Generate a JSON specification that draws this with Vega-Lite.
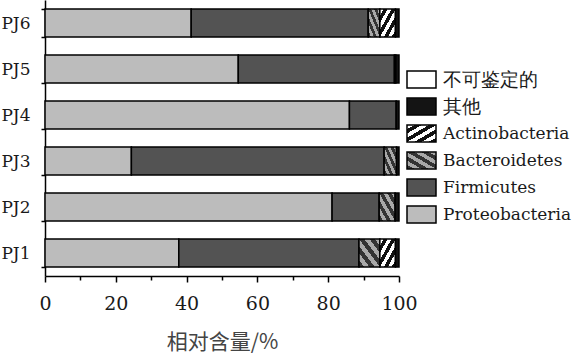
{
  "$schema": "https://vega.github.io/schema/vega-lite/v6.json",
  "autosize": {"type": "none"},
  "width": 354,
  "height": 276,
  "padding": {"left": 45, "top": 0, "right": 174, "bottom": 79},
  "background": "white",
  "config": {"view": {"stroke": null}},
  "data": {
    "values": [
      {"sample": "PJ6", "group": "Proteobacteria", "pct": 41.3},
      {"sample": "PJ6", "group": "Firmicutes", "pct": 50.0},
      {"sample": "PJ6", "group": "Bacteroidetes", "pct": 3.3},
      {"sample": "PJ6", "group": "Actinobacteria", "pct": 4.4},
      {"sample": "PJ6", "group": "其他", "pct": 1.0},
      {"sample": "PJ5", "group": "Proteobacteria", "pct": 54.6},
      {"sample": "PJ5", "group": "Firmicutes", "pct": 44.1},
      {"sample": "PJ5", "group": "Actinobacteria", "pct": 0.4},
      {"sample": "PJ5", "group": "其他", "pct": 0.9},
      {"sample": "PJ4", "group": "Proteobacteria", "pct": 86.0},
      {"sample": "PJ4", "group": "Firmicutes", "pct": 13.2},
      {"sample": "PJ4", "group": "其他", "pct": 0.8},
      {"sample": "PJ3", "group": "Proteobacteria", "pct": 24.4},
      {"sample": "PJ3", "group": "Firmicutes", "pct": 71.4},
      {"sample": "PJ3", "group": "Bacteroidetes", "pct": 3.5},
      {"sample": "PJ3", "group": "其他", "pct": 0.7},
      {"sample": "PJ2", "group": "Proteobacteria", "pct": 81.1},
      {"sample": "PJ2", "group": "Firmicutes", "pct": 13.3},
      {"sample": "PJ2", "group": "Bacteroidetes", "pct": 4.5},
      {"sample": "PJ2", "group": "其他", "pct": 1.1},
      {"sample": "PJ1", "group": "Proteobacteria", "pct": 37.8},
      {"sample": "PJ1", "group": "Firmicutes", "pct": 50.9},
      {"sample": "PJ1", "group": "Bacteroidetes", "pct": 5.9},
      {"sample": "PJ1", "group": "Actinobacteria", "pct": 4.4},
      {"sample": "PJ1", "group": "其他", "pct": 1.0}
    ]
  },
  "transform": [
    {"calculate": "indexof(['Proteobacteria','Firmicutes','Bacteroidetes','Actinobacteria','其他','不可鉴定的'], datum.group)", "as": "stackOrder"}
  ],
  "mark": {"type": "bar", "stroke": "black", "strokeWidth": 1.5},
  "encoding": {
    "y": {
      "field": "sample",
      "type": "nominal",
      "sort": ["PJ6", "PJ5", "PJ4", "PJ3", "PJ2", "PJ1"],
      "scale": {"paddingInner": 0.39, "paddingOuter": 0.195},
      "axis": {
        "title": null,
        "tickBand": "extent",
        "tickSize": 4,
        "tickColor": "black",
        "tickWidth": 1.5,
        "domainColor": "black",
        "domainWidth": 1.5,
        "labelFont": "DejaVu Serif",
        "labelFontSize": 17,
        "labelColor": "#1a1a1a",
        "labelPadding": 11
      }
    },
    "x": {
      "field": "pct",
      "type": "quantitative",
      "stack": "zero",
      "scale": {"domain": [0, 100], "nice": false},
      "axis": {
        "title": "相对含量/%",
        "titleFont": "Noto Sans CJK SC",
        "titleFontSize": 21,
        "titleFontWeight": "normal",
        "titleColor": "#444444",
        "titlePadding": 18,
        "values": [0, 10, 20, 30, 40, 50, 60, 70, 80, 90, 100],
        "labelExpr": "datum.value % 20 === 0 ? datum.label : ''",
        "tickSize": {"condition": {"test": "datum.value % 20 !== 0", "value": 4}, "value": 6},
        "tickColor": "black",
        "tickWidth": 1.5,
        "domainColor": "black",
        "domainWidth": 1.5,
        "grid": false,
        "labelFont": "DejaVu Serif",
        "labelFontSize": 19,
        "labelColor": "#1a1a1a",
        "labelPadding": 12,
        "labelFlush": false
      }
    },
    "order": {"field": "stackOrder", "type": "quantitative", "sort": "ascending"},
    "fill": {
      "field": "group",
      "type": "nominal",
      "scale": {
        "domain": ["不可鉴定的", "其他", "Actinobacteria", "Bacteroidetes", "Firmicutes", "Proteobacteria"],
        "range": [
          "#ffffff",
          "#141414",
          {"expr": "{gradient: 'linear', x1: 0, y1: 0, x2: 1, y2: 1, stops: [{offset: 0, color: '#ffffff'}, {offset: 0.125, color: '#ffffff'}, {offset: 0.125, color: '#111111'}, {offset: 0.25, color: '#111111'}, {offset: 0.25, color: '#ffffff'}, {offset: 0.375, color: '#ffffff'}, {offset: 0.375, color: '#111111'}, {offset: 0.5, color: '#111111'}, {offset: 0.5, color: '#ffffff'}, {offset: 0.625, color: '#ffffff'}, {offset: 0.625, color: '#111111'}, {offset: 0.75, color: '#111111'}, {offset: 0.75, color: '#ffffff'}, {offset: 0.875, color: '#ffffff'}, {offset: 0.875, color: '#111111'}, {offset: 1, color: '#111111'}]}"},
          {"expr": "{gradient: 'linear', x1: 1, y1: 0, x2: 0, y2: 1, stops: [{offset: 0, color: '#a8a8a8'}, {offset: 0.125, color: '#a8a8a8'}, {offset: 0.125, color: '#333333'}, {offset: 0.25, color: '#333333'}, {offset: 0.25, color: '#a8a8a8'}, {offset: 0.375, color: '#a8a8a8'}, {offset: 0.375, color: '#333333'}, {offset: 0.5, color: '#333333'}, {offset: 0.5, color: '#a8a8a8'}, {offset: 0.625, color: '#a8a8a8'}, {offset: 0.625, color: '#333333'}, {offset: 0.75, color: '#333333'}, {offset: 0.75, color: '#a8a8a8'}, {offset: 0.875, color: '#a8a8a8'}, {offset: 0.875, color: '#333333'}, {offset: 1, color: '#333333'}]}"},
          "#535353",
          "#bcbcbc"
        ]
      },
      "legend": {
        "orient": "none",
        "legendX": 361,
        "legendY": 64,
        "title": null,
        "padding": 0,
        "symbolType": "M-1,-0.58H1V0.58H-1Z",
        "symbolSize": 841,
        "symbolStrokeColor": "black",
        "symbolStrokeWidth": 1.5,
        "symbolOpacity": 1,
        "labelFont": "DejaVu Serif",
        "labelFontSize": 17,
        "labelColor": "#1a1a1a",
        "labelOffset": 6,
        "labelLimit": 200,
        "rowPadding": -2,
        "encode": {
          "labels": {
            "update": {
              "fontSize": {"signal": "datum.label === '不可鉴定的' || datum.label === '其他' ? 19 : 17"}
            }
          }
        }
      }
    }
  }
}
